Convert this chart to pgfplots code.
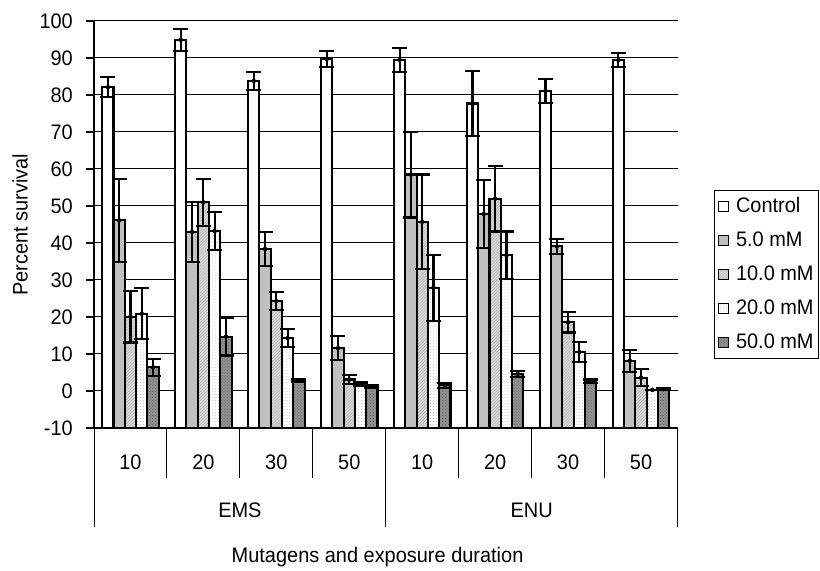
\documentclass[border=0pt]{standalone}
\usepackage{pgfplots}
\pgfplotsset{compat=1.18}
\usepackage{pgfplotstable}
\usetikzlibrary{patterns}
\usepackage{fontspec}
\setmainfont[FakeStretch=0.95]{Liberation Sans}
\definecolor{cFive}{HTML}{C0C0C0}
\definecolor{cTen}{HTML}{DADADA}
\definecolor{cTenP}{HTML}{A8A8A8}
\definecolor{cTwentyP}{HTML}{B8B8B8}
\definecolor{cFifty}{HTML}{929292}
\definecolor{cFiftyP}{HTML}{5E5E5E}

% x: 0-3 = EMS 10,20,30,50 min ; 4-7 = ENU 10,20,30,50 min
\pgfplotstableread{
x y e
0 82.1 2.7
1 94.9 2.9
2 83.8 2.5
3 89.7 2.1
4 89.5 3.3
5 77.7 8.8
6 81.1 3.2
7 89.4 1.9
}\tblC
\pgfplotstableread{
x y e
0 46.1 11.2
1 43.0 8.2
2 38.4 4.5
3 11.6 3.2
4 58.5 11.6
5 47.8 9.2
6 39.1 2.1
7 8.2 3.0
}\tblFive
\pgfplotstableread{
x y e
0 20.1 7.0
1 51.0 6.3
2 24.3 2.4
3 3.1 1.3
4 45.7 12.8
5 52.0 8.9
6 18.6 2.8
7 3.6 2.3
}\tblTen
\pgfplotstableread{
x y e
0 20.9 6.9
1 43.2 5.1
2 14.3 2.5
3 1.8 0.5
4 27.9 8.9
5 36.7 6.4
6 10.5 2.7
7 0.3 0.0
}\tblTwenty
\pgfplotstableread{
x y e
0 6.4 2.3
1 14.7 5.1
2 2.8 0.3
3 1.2 0.3
4 1.5 0.7
5 4.6 0.9
6 2.6 0.5
7 0.5 0.2
}\tblFifty

\pgfplotsset{
  barbase/.style={ybar, bar width=0.155, draw=black, line width=2.1bp},
  errbars/.style={black, only marks, mark=none, forget plot,
    error bars/.cd, y dir=both, y explicit, error mark=-,
    error bar style={line width=2.1bp, black, solid},
    error mark options={rotate=90, line width=2.1bp, black, mark size=7.5bp, solid}},
}

\begin{document}
\fontsize{21bp}{25bp}\selectfont
\begin{tikzpicture}
\useasboundingbox (0,0) rectangle (820bp,571bp);
\begin{axis}[
  at={(94bp,143bp)}, anchor=south west,
  scale only axis, width=583.5bp, height=407bp,
  xmin=-0.5, xmax=7.5, ymin=0, ymax=110,
  axis x line*=bottom, axis y line*=left,
  axis line style={line width=1.3bp, black, -},
  ytick={0,10,20,30,40,50,60,70,80,90,100,110},
  yticklabels={-10,0,10,20,30,40,50,60,70,80,90,100},
  ymajorgrids, grid style={line width=1bp, black},
  xtick={0,1,2,3,4,5,6,7},
  xticklabels={10,20,30,50,10,20,30,50},
  x tick style={draw=none},
  y tick style={line width=1.3bp, black},
  major tick length=8bp, tick align=outside,
  x tick label style={anchor=center, yshift=-26bp},
  y tick label style={xshift=-6bp},
  xlabel={Mutagens and exposure duration},
  xlabel style={at={(axis description cs:0.486,-0.317)}, anchor=center},
  ylabel={Percent survival},
  ylabel style={at={(axis description cs:-0.1268,0.5)}, anchor=center},
  clip=false,
  legend cell align=left,
  legend style={at={(axis description cs:1.0626,0.5848)}, anchor=north west,
    draw=black, line width=1bp, inner xsep=3bp, inner ysep=5bp, row sep=12bp,
    nodes={inner sep=2bp, text height=15bp, text depth=3bp}},
  legend image code/.code={\draw[#1, line width=1.5bp, draw=black] (0bp,-5bp) rectangle (10bp,5bp);},
  /tikz/every odd column/.append style={column sep=5bp},
]
\addplot[barbase, bar shift=-0.31, fill=white] table[x=x, y expr=\thisrow{y}+10]{\tblC};
\addlegendentry{Control}
\addplot[barbase, bar shift=-0.155, fill=cFive] table[x=x, y expr=\thisrow{y}+10]{\tblFive};
\addlegendentry{5.0 mM}
\addplot[barbase, bar shift=0, fill=cTen, postaction={pattern=north east lines, pattern color=cTenP}] table[x=x, y expr=\thisrow{y}+10]{\tblTen};
\addlegendentry{10.0 mM}
\addplot[barbase, bar shift=0.155, fill=white, postaction={pattern=dots, pattern color=cTwentyP}] table[x=x, y expr=\thisrow{y}+10]{\tblTwenty};
\addlegendentry{20.0 mM}
\addplot[barbase, bar shift=0.31, fill=cFifty, postaction={pattern=crosshatch dots, pattern color=cFiftyP}] table[x=x, y expr=\thisrow{y}+10]{\tblFifty};
\addlegendentry{50.0 mM}

\addplot[errbars] table[x expr=\thisrow{x}-0.31, y expr=\thisrow{y}+10, y error=e]{\tblC};
\addplot[errbars] table[x expr=\thisrow{x}-0.155, y expr=\thisrow{y}+10, y error=e]{\tblFive};
\addplot[errbars] table[x=x, y expr=\thisrow{y}+10, y error=e]{\tblTen};
\addplot[errbars] table[x expr=\thisrow{x}+0.155, y expr=\thisrow{y}+10, y error=e]{\tblTwenty};
\addplot[errbars] table[x expr=\thisrow{x}+0.31, y expr=\thisrow{y}+10, y error=e]{\tblFifty};

\pgfplotsinvokeforeach{-0.5,0.5,1.5,2.5,4.5,5.5,6.5}{
  \draw[line width=1bp] (axis cs:#1,0) -- ([yshift=-50bp]axis cs:#1,0);
}
\pgfplotsinvokeforeach{-0.5,3.5,7.5}{
  \draw[line width=1bp] (axis cs:#1,0) -- ([yshift=-99bp]axis cs:#1,0);
}
\node[anchor=center] at ([yshift=-82bp]axis cs:1.5,0) {EMS};
\node[anchor=center] at ([yshift=-82bp]axis cs:5.5,0) {ENU};
\end{axis}
\end{tikzpicture}
\end{document}
